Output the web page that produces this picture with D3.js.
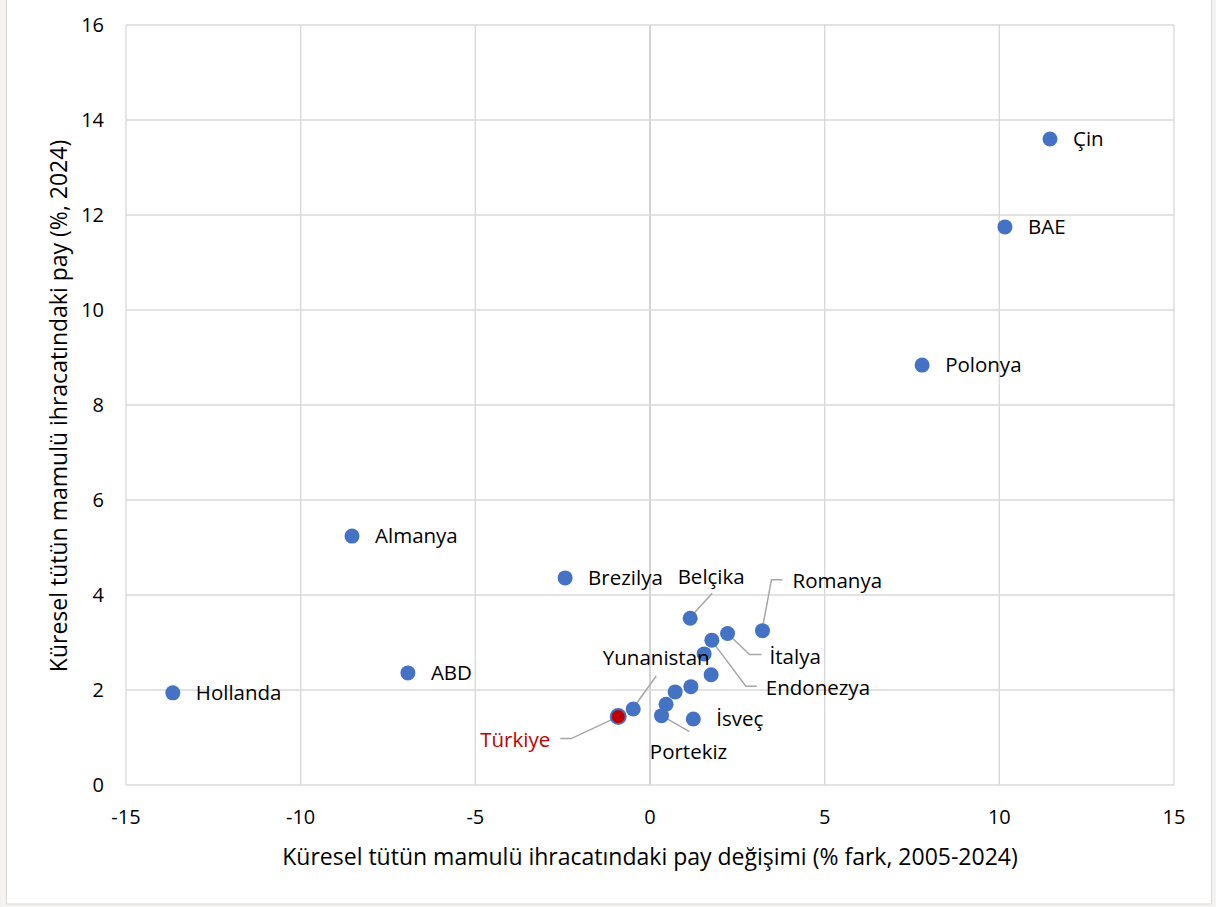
<!DOCTYPE html>
<html>
<head>
<meta charset="utf-8">
<script src="https://cdn.jsdelivr.net/npm/d3@7"></script>
<style>
  body { margin: 0; background: #f4f3f1; font-family: "Open Sans", "Noto Sans", sans-serif; }
</style>
</head>
<body>
<div id="chart"></div>
<script>
// data
const countries = ["Çin", "BAE", "Polonya", "Almanya", "Brezilya", "ABD", "Hollanda",
  "Belçika", "Romanya", "İtalya", "Endonezya", "", "", "", "", "",
  "Portekiz", "İsveç", "Yunanistan", "Türkiye"];
const shareChange = [11.45, 10.16, 7.79, -8.53, -2.43, -6.93, -13.66,
  1.15, 3.22, 2.22, 1.77, 1.55, 1.75, 1.17, 0.72, 0.46,
  0.33, 1.24, -0.48, -0.91];
const share2024 = [13.6, 11.75, 8.84, 5.24, 4.36, 2.36, 1.94,
  3.51, 3.25, 3.19, 3.05, 2.76, 2.32, 2.07, 1.96, 1.70,
  1.46, 1.39, 1.60, 1.44];
const xTicks = [-15, -10, -5, 0, 5, 10, 15];
const yTicks = [0, 2, 4, 6, 8, 10, 12, 14, 16];

// label placement (pixel offsets from the point); leader = path of offsets
const labelLayout = {
  "Belçika":    { dx: 21,  dy: -41, anchor: "middle", leader: [[2, -3], [22, -25]] },
  "Romanya":    { dx: 30,  dy: -50, anchor: "start",  leader: [[0, -3], [9, -51], [20, -51]] },
  "İtalya":     { dx: 42,  dy: 23,  anchor: "start",  leader: [[1, 1], [22, 21], [34, 21]] },
  "Endonezya":  { dx: 54,  dy: 48,  anchor: "start",  leader: [[1, 2], [34, 46], [45, 46]] },
  "Yunanistan": { dx: 23,  dy: -51, anchor: "middle", leader: [[0, -1], [23, -33]] },
  "Portekiz":   { dx: 27,  dy: 36,  anchor: "middle", leader: [[0, 0], [28, 16]] },
  "Türkiye":    { dx: -68, dy: 23,  anchor: "end",    leader: [[0, 0], [-47, 22], [-58, 22]] }
};

const W = 1216, H = 907;
const svg = d3.select("#chart").append("svg")
  .attr("width", W).attr("height", H);

// chart frame
svg.append("rect")
  .attr("x", 6.5).attr("y", -2).attr("width", 1205).attr("height", 906)
  .attr("fill", "#ffffff").attr("stroke", "#d9d9d9");

const x = d3.scaleLinear().domain([-15, 15]).range([126, 1174]);
const y = d3.scaleLinear().domain([0, 16]).range([785, 25]);

// grid
svg.append("g").selectAll("line").data(xTicks).enter().append("line")
  .attr("x1", d => x(d)).attr("x2", d => x(d))
  .attr("y1", y(16)).attr("y2", y(0))
  .attr("stroke", d => d === 0 ? "#bfbfbf" : "#d9d9d9")
  .attr("stroke-width", 1.3);

svg.append("g").selectAll("line").data(yTicks).enter().append("line")
  .attr("x1", x(-15)).attr("x2", x(15))
  .attr("y1", d => y(d)).attr("y2", d => y(d))
  .attr("stroke", "#d9d9d9")
  .attr("stroke-width", 1.3);

// tick labels
svg.append("g").selectAll("text").data(yTicks).enter().append("text")
  .attr("x", 104).attr("y", d => y(d)).attr("dy", "0.35em")
  .attr("text-anchor", "end")
  .style("font-size", "20px").attr("fill", "#000")
  .text(d => d);

svg.append("g").selectAll("text").data(xTicks).enter().append("text")
  .attr("x", d => x(d)).attr("y", 824)
  .attr("text-anchor", "middle")
  .style("font-size", "20px").attr("fill", "#000")
  .text(d => d);

// axis titles
svg.append("text")
  .attr("x", 650).attr("y", 865)
  .attr("text-anchor", "middle")
  .style("font-size", "23px")
  .text("Küresel tütün mamulü ihracatındaki pay değişimi (% fark, 2005-2024)");

svg.append("text")
  .attr("transform", "translate(67, 406) rotate(-90)")
  .attr("text-anchor", "middle")
  .style("font-size", "23px")
  .text("Küresel tütün mamulü ihracatındaki pay (%, 2024)");

const points = countries.map((c, i) => ({ name: c, x: shareChange[i], y: share2024[i] }));

// leader lines
svg.append("g").selectAll("path")
  .data(points.filter(p => labelLayout[p.name]))
  .enter().append("path")
  .attr("d", p => d3.line()(labelLayout[p.name].leader.map(o => [x(p.x) + o[0], y(p.y) + o[1]])))
  .attr("fill", "none").attr("stroke", "#a6a6a6").attr("stroke-width", 1.5);

// points
svg.append("g").selectAll("circle").data(points).enter().append("circle")
  .attr("cx", p => x(p.x)).attr("cy", p => y(p.y))
  .attr("r", 7.5)
  .attr("fill", p => p.name === "Türkiye" ? "#c00000" : "#4472c4")
  .attr("stroke", p => p.name === "Türkiye" ? "#4472c4" : "none")
  .attr("stroke-width", 2);

// labels
svg.append("g").selectAll("text").data(points.filter(p => p.name)).enter().append("text")
  .attr("x", p => x(p.x) + (labelLayout[p.name] ? labelLayout[p.name].dx : 23))
  .attr("y", p => y(p.y) + (labelLayout[p.name] ? labelLayout[p.name].dy : 0))
  .attr("dy", "0.35em")
  .attr("text-anchor", p => labelLayout[p.name] ? labelLayout[p.name].anchor : "start")
  .style("font-size", "20.5px")
  .attr("fill", p => p.name === "Türkiye" ? "#c00000" : "#000")
  .text(p => p.name);
</script>
</body>
</html>
